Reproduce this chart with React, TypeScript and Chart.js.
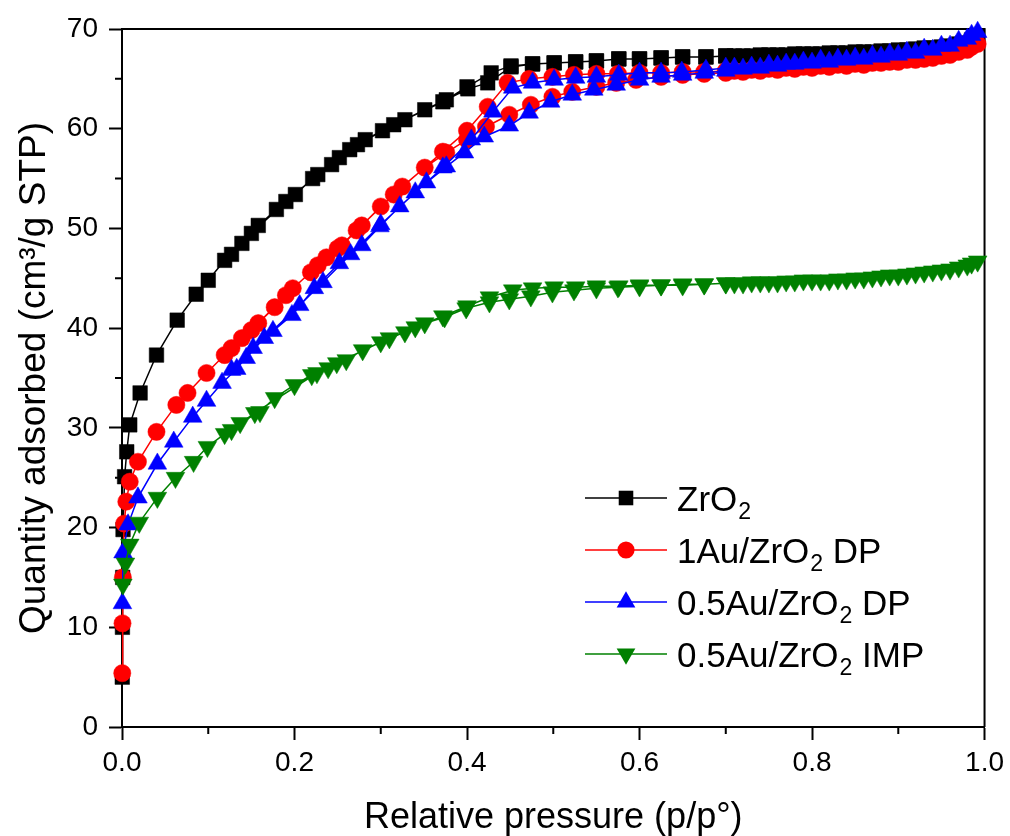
import React, { useEffect, useRef } from 'react';
import { Chart, registerables } from 'chart.js';

Chart.register(...registerables);

const FONT = '"Liberation Sans", Arial, Helvetica, sans-serif';

const seriesNames = ['ZrO₂', '1Au/ZrO₂ DP', '0.5Au/ZrO₂ DP', '0.5Au/ZrO₂ IMP'];
const seriesColors = ['#000000', '#ff0000', '#0000ff', '#008000'];
const seriesMarkers = ['rect', 'circle', 'triangle', 'triangle'];
const seriesRotation = [0, 0, 0, 180];
const seriesRadius = [10.3, 8.6, 10.8, 10.8];

const xAxisTitle = 'Relative pressure (p/p°)';
const yAxisTitle = 'Quantity adsorbed (cm³/g STP)';
const xMinorTicks = [0.1, 0.3, 0.5, 0.7, 0.9];
const yMinorTicks = [5, 15, 25, 35, 45, 55, 65];

// ZrO2
const zro2AdsX = [0.0003, 0.0005, 0.0008, 0.0012, 0.003, 0.0055, 0.009, 0.021, 0.040, 0.064, 0.086, 0.100, 0.119, 0.139, 0.158, 0.179, 0.201, 0.221, 0.243, 0.264, 0.282, 0.302, 0.328, 0.351, 0.376, 0.401, 0.424, 0.451, 0.476, 0.501, 0.526, 0.550, 0.576, 0.600, 0.625, 0.650, 0.677, 0.700, 0.720, 0.740, 0.760, 0.780, 0.800, 0.820, 0.840, 0.860, 0.880, 0.900, 0.920, 0.940, 0.960, 0.975, 0.992];
const zro2AdsY = [5.0, 10.0, 15.0, 19.8, 25.1, 27.6, 30.3, 33.5, 37.3, 40.8, 43.4, 44.8, 46.8, 48.5, 50.3, 51.9, 53.4, 55.0, 56.4, 57.9, 58.9, 59.8, 60.9, 61.9, 62.9, 64.0, 64.6, 66.2, 66.5, 66.6, 66.7, 66.8, 67.0, 67.0, 67.1, 67.2, 67.2, 67.3, 67.3, 67.4, 67.4, 67.5, 67.5, 67.6, 67.6, 67.7, 67.8, 67.9, 68.0, 68.1, 68.3, 68.6, 69.3];
const zro2DesX = [0.985, 0.970, 0.950, 0.930, 0.910, 0.890, 0.870, 0.850, 0.830, 0.810, 0.790, 0.770, 0.750, 0.730, 0.710, 0.700, 0.677, 0.650, 0.625, 0.600, 0.576, 0.550, 0.526, 0.501, 0.476, 0.451, 0.428, 0.400, 0.372, 0.315, 0.273, 0.252, 0.227, 0.190, 0.150, 0.127];
const zro2DesY = [68.9, 68.5, 68.2, 68.1, 67.9, 67.8, 67.7, 67.7, 67.6, 67.5, 67.5, 67.4, 67.4, 67.3, 67.3, 67.3, 67.2, 67.2, 67.1, 67.0, 67.0, 66.8, 66.7, 66.6, 66.5, 66.3, 65.6, 64.2, 62.7, 60.4, 58.4, 57.1, 55.4, 52.7, 49.5, 47.4];

// 1Au/ZrO2 DP
const au1AdsX = [0.0003, 0.0006, 0.001, 0.0025, 0.005, 0.009, 0.0185, 0.040, 0.063, 0.076, 0.098, 0.119, 0.139, 0.158, 0.177, 0.198, 0.219, 0.237, 0.255, 0.278, 0.300, 0.325, 0.351, 0.376, 0.400, 0.422, 0.449, 0.474, 0.499, 0.522, 0.550, 0.573, 0.596, 0.625, 0.650, 0.675, 0.700, 0.720, 0.740, 0.760, 0.780, 0.800, 0.820, 0.840, 0.860, 0.880, 0.900, 0.920, 0.940, 0.960, 0.980, 0.992];
const au1AdsY = [5.4, 10.4, 15.0, 20.4, 22.6, 24.6, 26.6, 29.6, 32.3, 33.5, 35.5, 37.3, 39.0, 40.5, 42.1, 44.0, 45.6, 47.1, 48.3, 50.3, 52.2, 54.2, 56.1, 57.6, 58.9, 60.2, 61.4, 62.4, 63.2, 63.7, 64.2, 64.6, 64.9, 65.2, 65.4, 65.5, 65.6, 65.7, 65.8, 65.9, 66.0, 66.1, 66.2, 66.3, 66.4, 66.6, 66.7, 66.9, 67.1, 67.4, 67.9, 68.5];
const au1DesX = [0.985, 0.970, 0.950, 0.930, 0.910, 0.890, 0.870, 0.850, 0.830, 0.810, 0.790, 0.770, 0.750, 0.730, 0.710, 0.700, 0.675, 0.650, 0.625, 0.600, 0.575, 0.550, 0.524, 0.499, 0.472, 0.447, 0.424, 0.400, 0.372, 0.315, 0.272, 0.250, 0.227, 0.190, 0.150, 0.127];
const au1DesY = [68.2, 67.7, 67.3, 67.0, 66.9, 66.7, 66.6, 66.5, 66.4, 66.3, 66.2, 66.1, 66.0, 65.9, 65.8, 65.8, 65.7, 65.7, 65.6, 65.6, 65.5, 65.5, 65.4, 65.2, 65.0, 64.6, 62.2, 59.8, 57.7, 53.4, 49.8, 48.0, 46.3, 43.3, 39.8, 38.0];

// 0.5Au/ZrO2 DP
const au05AdsX = [0.0005, 0.0012, 0.007, 0.0185, 0.041, 0.060, 0.082, 0.098, 0.116, 0.133, 0.152, 0.175, 0.197, 0.223, 0.252, 0.278, 0.299, 0.322, 0.353, 0.376, 0.397, 0.420, 0.449, 0.472, 0.497, 0.522, 0.547, 0.573, 0.600, 0.625, 0.650, 0.675, 0.700, 0.720, 0.740, 0.760, 0.780, 0.800, 0.820, 0.840, 0.860, 0.880, 0.900, 0.920, 0.940, 0.960, 0.980, 0.992];
const au05AdsY = [12.4, 17.5, 20.3, 23.0, 26.4, 28.6, 31.1, 32.7, 34.5, 35.9, 38.0, 39.7, 41.3, 44.0, 46.5, 48.3, 50.2, 52.2, 54.6, 56.2, 57.6, 59.2, 60.3, 61.6, 62.7, 63.4, 63.9, 64.4, 64.9, 65.2, 65.4, 65.6, 65.8, 66.0, 66.1, 66.3, 66.5, 66.6, 66.7, 66.9, 67.0, 67.2, 67.4, 67.6, 67.9, 68.3, 69.0, 69.7];
const au05DesX = [0.985, 0.970, 0.950, 0.930, 0.910, 0.890, 0.870, 0.850, 0.830, 0.810, 0.790, 0.770, 0.750, 0.730, 0.710, 0.700, 0.677, 0.649, 0.625, 0.600, 0.576, 0.550, 0.526, 0.501, 0.476, 0.453, 0.430, 0.405, 0.372, 0.340, 0.300, 0.265, 0.233, 0.206, 0.165, 0.144, 0.127];
const au05DesY = [69.4, 68.8, 68.3, 68.0, 67.7, 67.5, 67.3, 67.1, 67.0, 66.9, 66.7, 66.5, 66.4, 66.2, 66.1, 66.1, 65.9, 65.7, 65.6, 65.6, 65.4, 65.2, 65.1, 64.9, 64.6, 64.1, 61.7, 58.9, 56.1, 53.6, 50.4, 47.4, 44.6, 42.3, 39.0, 37.0, 35.8];

// 0.5Au/ZrO2 IMP
const impAdsX = [0.001, 0.004, 0.009, 0.020, 0.041, 0.062, 0.083, 0.099, 0.119, 0.137, 0.160, 0.177, 0.200, 0.220, 0.239, 0.260, 0.279, 0.300, 0.328, 0.351, 0.374, 0.399, 0.426, 0.449, 0.474, 0.499, 0.524, 0.550, 0.575, 0.600, 0.625, 0.650, 0.675, 0.700, 0.720, 0.740, 0.760, 0.780, 0.800, 0.820, 0.840, 0.860, 0.880, 0.900, 0.920, 0.940, 0.960, 0.980, 0.992];
const impAdsY = [14.3, 16.4, 18.3, 20.5, 23.0, 25.0, 26.6, 28.1, 29.4, 30.5, 31.6, 33.0, 34.3, 35.3, 36.0, 36.8, 37.8, 38.6, 39.6, 40.5, 41.1, 42.0, 42.6, 42.9, 43.2, 43.6, 43.8, 44.0, 44.1, 44.2, 44.3, 44.3, 44.4, 44.5, 44.5, 44.6, 44.6, 44.7, 44.8, 44.8, 44.9, 45.0, 45.2, 45.3, 45.5, 45.7, 45.9, 46.3, 46.7];
const impDesX = [0.985, 0.970, 0.950, 0.930, 0.910, 0.890, 0.870, 0.850, 0.830, 0.810, 0.790, 0.770, 0.750, 0.730, 0.710, 0.700, 0.675, 0.650, 0.625, 0.600, 0.576, 0.550, 0.526, 0.501, 0.476, 0.453, 0.426, 0.400, 0.372, 0.340, 0.310, 0.249, 0.226, 0.154, 0.127];
const impDesY = [46.5, 46.1, 45.8, 45.6, 45.4, 45.3, 45.1, 45.0, 44.9, 44.8, 44.8, 44.7, 44.6, 44.6, 44.5, 44.5, 44.4, 44.4, 44.3, 44.3, 44.2, 44.2, 44.1, 44.1, 44.0, 43.8, 43.1, 42.2, 41.2, 40.1, 39.0, 36.5, 35.5, 31.5, 29.8];

const seriesXs = [
  [zro2AdsX, zro2DesX],
  [au1AdsX, au1DesX],
  [au05AdsX, au05DesX],
  [impAdsX, impDesX],
];
const seriesYs = [
  [zro2AdsY, zro2DesY],
  [au1AdsY, au1DesY],
  [au05AdsY, au05DesY],
  [impAdsY, impDesY],
];

function toPoints(xs: number[][], ys: number[][]) {
  const pts: { x: number; y: number }[] = [];
  xs.forEach((arr, k) => arr.forEach((x, i) => pts.push({ x, y: ys[k][i] })));
  return pts;
}

function drawMarker(ctx: CanvasRenderingContext2D, style: string, x: number, y: number, r: number, rot: number, color: string) {
  ctx.fillStyle = color;
  ctx.beginPath();
  if (style === 'rect') {
    const s = r * Math.SQRT1_2;
    ctx.rect(x - s, y - s, 2 * s, 2 * s);
  } else if (style === 'circle') {
    ctx.arc(x, y, r, 0, Math.PI * 2);
  } else {
    let rad = (rot * Math.PI) / 180;
    ctx.moveTo(x + Math.sin(rad) * r, y - Math.cos(rad) * r);
    rad += (2 * Math.PI) / 3;
    ctx.lineTo(x + Math.sin(rad) * r, y - Math.cos(rad) * r);
    rad += (2 * Math.PI) / 3;
    ctx.lineTo(x + Math.sin(rad) * r, y - Math.cos(rad) * r);
    ctx.closePath();
  }
  ctx.fill();
}

function drawRichText(ctx: CanvasRenderingContext2D, text: string, x: number, baseline: number, size: number) {
  const parts = text.split('₂');
  let cx = x;
  ctx.textBaseline = 'alphabetic';
  ctx.textAlign = 'left';
  ctx.fillStyle = '#000';
  parts.forEach((p, i) => {
    ctx.font = `${size}px ${FONT}`;
    ctx.fillText(p, cx, baseline);
    cx += ctx.measureText(p).width;
    if (i < parts.length - 1) {
      const sub = size * 0.66;
      ctx.font = `${sub}px ${FONT}`;
      ctx.fillText('2', cx + 1, baseline + size * 0.23);
      cx += ctx.measureText('2').width + 1;
    }
  });
}

const framePlugin = {
  id: 'frameAndMinor',
  beforeDatasetsDraw(chart: any) {
    const { ctx, chartArea: a, scales } = chart;
    ctx.save();
    ctx.strokeStyle = '#000';
    ctx.lineWidth = 2;
    ctx.beginPath();
    ctx.moveTo(a.left, a.top);
    ctx.lineTo(a.right, a.top);
    ctx.lineTo(a.right, a.bottom);
    ctx.stroke();
    ctx.beginPath();
    xMinorTicks.forEach((v) => {
      const px = scales.x.getPixelForValue(v);
      ctx.moveTo(px, a.bottom);
      ctx.lineTo(px, a.bottom + 7);
    });
    yMinorTicks.forEach((v) => {
      const py = scales.y.getPixelForValue(v);
      ctx.moveTo(a.left - 7, py);
      ctx.lineTo(a.left, py);
    });
    ctx.stroke();
    ctx.restore();
  },
};

const legendPlugin = {
  id: 'customLegend',
  afterDraw(chart: any) {
    const { ctx, chartArea: a } = chart;
    const lineX0 = a.left + 463;
    const lineX1 = a.left + 545;
    const markX = (lineX0 + lineX1) / 2;
    const textX = a.left + 555;
    const rowY0 = a.top + 469;
    const rowStep = 52;
    ctx.save();
    seriesNames.forEach((name, i) => {
      const y = rowY0 + i * rowStep;
      ctx.strokeStyle = seriesColors[i];
      ctx.lineWidth = 1.5;
      ctx.beginPath();
      ctx.moveTo(lineX0, y);
      ctx.lineTo(lineX1, y);
      ctx.stroke();
      drawMarker(ctx, seriesMarkers[i], markX, y, seriesRadius[i], seriesRotation[i], seriesColors[i]);
      drawRichText(ctx, name, textX, y + 12.5, 35);
    });
    ctx.restore();
  },
};

export default function App() {
  const ref = useRef<HTMLCanvasElement | null>(null);
  useEffect(() => {
    if (!ref.current) return;
    const datasets = seriesNames.map((name, i) => ({
      label: name,
      data: toPoints(seriesXs[i], seriesYs[i]),
      showLine: true,
      borderColor: seriesColors[i],
      backgroundColor: seriesColors[i],
      borderWidth: 1.5,
      pointStyle: seriesMarkers[i],
      pointRotation: seriesRotation[i],
      pointRadius: seriesRadius[i],
      pointBackgroundColor: seriesColors[i],
      pointBorderColor: seriesColors[i],
      pointBorderWidth: 0.5,
      pointHoverRadius: seriesRadius[i],
      order: 4 - i,
      clip: false as any,
      tension: 0,
    }));
    const chart = new Chart(ref.current, {
      type: 'scatter',
      data: { datasets },
      options: {
        animation: false,
        responsive: true,
        maintainAspectRatio: false,
        events: [],
        layout: { padding: { top: 29, right: 24, left: 0, bottom: 0 } },
        plugins: { legend: { display: false }, tooltip: { enabled: false } },
        scales: {
          x: {
            type: 'linear',
            min: 0,
            max: 1,
            afterFit: (s: any) => {
              s.height = 109;
            },
            ticks: {
              stepSize: 0.1,
              autoSkip: false,
              maxRotation: 0,
              color: '#000',
              padding: 6,
              font: { family: FONT, size: 28 },
              callback: (v: any) => (Math.round(Number(v) * 10) % 2 === 0 ? Number(v).toFixed(1) : ''),
            },
            grid: {
              display: true,
              drawOnChartArea: false,
              drawTicks: true,
              tickLength: 13,
              tickWidth: 2,
              tickColor: (c: any) => (Math.round(c.tick.value * 10) % 2 === 0 ? '#000' : 'rgba(0,0,0,0)'),
            },
            border: { display: true, color: '#000', width: 2 },
            title: {
              display: true,
              text: xAxisTitle,
              color: '#000',
              font: { family: FONT, size: 36, lineHeight: 1 },
              padding: 0,
            },
          },
          y: {
            type: 'linear',
            min: 0,
            max: 70,
            afterFit: (s: any) => {
              s.width = 122;
            },
            ticks: {
              stepSize: 5,
              autoSkip: false,
              color: '#000',
              padding: 11,
              font: { family: FONT, size: 28 },
              callback: (v: any) => (Number(v) % 10 === 0 ? String(v) : ''),
            },
            grid: {
              display: true,
              drawOnChartArea: false,
              drawTicks: true,
              tickLength: 13,
              tickWidth: 2,
              tickColor: (c: any) => (c.tick.value % 10 === 0 ? '#000' : 'rgba(0,0,0,0)'),
            },
            border: { display: true, color: '#000', width: 2 },
            title: {
              display: true,
              text: yAxisTitle,
              color: '#000',
              font: { family: FONT, size: 37, lineHeight: 1 },
              padding: { top: 16, bottom: 0 },
            },
          },
        },
      },
      plugins: [framePlugin, legendPlugin],
    });
    return () => chart.destroy();
  }, []);
  return (
    <div style={{ position: 'absolute', left: 0, top: 0, width: 1010, height: 836, background: '#fff' }}>
      <canvas ref={ref} />
    </div>
  );
}
